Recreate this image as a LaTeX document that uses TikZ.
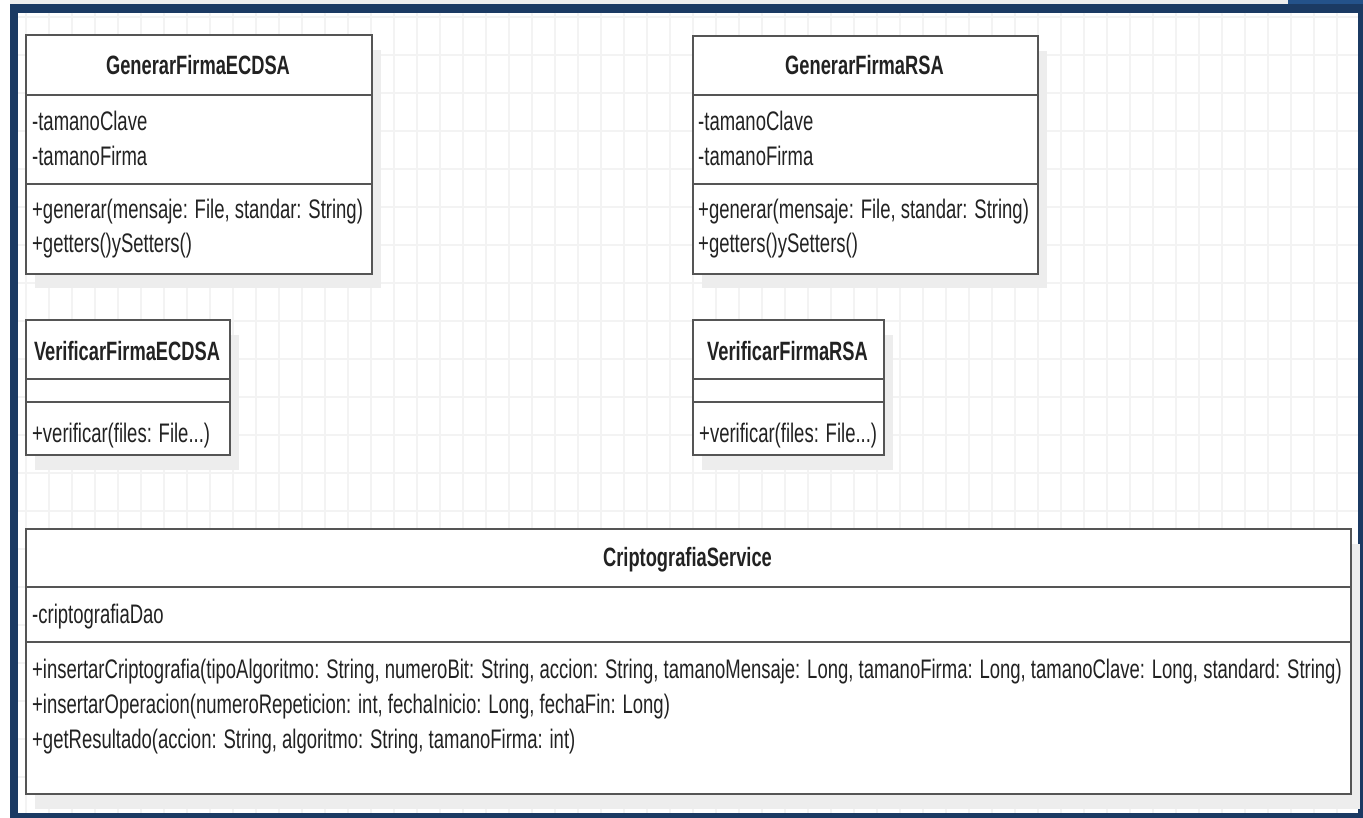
\documentclass[tikz,border=0pt]{standalone}
\usepackage{fontspec}
\setmainfont{Liberation Sans}[FakeStretch=0.69]
\definecolor{framecol}{HTML}{1B3A63}
\definecolor{tabcol}{HTML}{24528A}
\definecolor{stripcol}{HTML}{EEEEEE}
\definecolor{gridcol}{HTML}{F3F3F3}
\definecolor{shadowcol}{HTML}{EDEDED}
\definecolor{linecol}{HTML}{555555}
\definecolor{textcol}{HTML}{222222}
\tikzset{
  gridline/.style={draw=gridcol, line width=1.3pt},
  umlbox/.style={draw=linecol, fill=white, line width=2.4pt, rectangle, inner sep=0pt, anchor=north west},
  divline/.style={draw=linecol, line width=2.4pt},
  boxshadow/.style={fill=shadowcol},
  title/.style={font=\fontsize{26.5}{26.5}\selectfont\bfseries, text=textcol, inner sep=0pt, anchor=base},
  member/.style={font=\fontsize{26.8}{26.8}\selectfont, text=textcol, inner sep=0pt, anchor=base west},
}
\begin{document}
\begin{tikzpicture}[x=1pt,y=-1pt]
\useasboundingbox (0,0) rectangle (1363,818);
% window strip and frame
\fill[white] (0,0) rectangle (1363,818);
\fill[stripcol] (10,0) rectangle (1288,4);
\fill[tabcol] (1288,0) rectangle (1363,4);
\fill[framecol] (10,4) rectangle (1363,818);
\fill[white] (18,13) rectangle (1358,813);
% background grid
\begin{scope}
\clip (18,13) rectangle (1358,813);
\foreach \i in {1,...,59} {\draw[gridline] ({3+23*\i},13) -- ({3+23*\i},813);}
\foreach \j in {0,...,20} {\draw[gridline] (18,{17+38*\j}) -- (1358,{17+38*\j});}
\end{scope}

% shadows
\fill[boxshadow] (35,50) rectangle (381,288);
\fill[boxshadow] (702,51) rectangle (1047,288);
\fill[boxshadow] (35,335) rectangle (239,470);
\fill[boxshadow] (702,335) rectangle (893,470);
\fill[boxshadow] (35,544) rectangle (1360,809);

% GenerarFirmaECDSA
\node[umlbox, minimum width=346pt, minimum height=239pt] (gecdsa) at (25,34) {};
\draw[divline] (gecdsa.west |- 0,95) -- (gecdsa.east |- 0,95);
\draw[divline] (gecdsa.west |- 0,184) -- (gecdsa.east |- 0,184);
\node[title] (gecdsaT) at (198,75) {GenerarFirmaECDSA};
\node[member] (gecdsaA1) at (32,131) {-tamanoClave};
\node[member] (gecdsaA2) at (32,166) {-tamanoFirma};
\node[member] (gecdsaM1) at (32,219) {+generar(mensaje: File, standar: String)};
\node[member] (gecdsaM2) at (32,253) {+getters()ySetters()};

% GenerarFirmaRSA
\node[umlbox, minimum width=345pt, minimum height=238pt] (grsa) at (692,35) {};
\draw[divline] (grsa.west |- 0,95) -- (grsa.east |- 0,95);
\draw[divline] (grsa.west |- 0,184) -- (grsa.east |- 0,184);
\node[title] (grsaT) at (864.5,75) {GenerarFirmaRSA};
\node[member] (grsaA1) at (698,131) {-tamanoClave};
\node[member] (grsaA2) at (698,166) {-tamanoFirma};
\node[member] (grsaM1) at (698,219) {+generar(mensaje: File, standar: String)};
\node[member] (grsaM2) at (698,253) {+getters()ySetters()};

% VerificarFirmaECDSA
\node[umlbox, minimum width=204pt, minimum height=135pt] (vecdsa) at (25,319) {};
\draw[divline] (vecdsa.west |- 0,379) -- (vecdsa.east |- 0,379);
\draw[divline] (vecdsa.west |- 0,402) -- (vecdsa.east |- 0,402);
\node[title] (vecdsaT) at (127,360) {VerificarFirmaECDSA};
\node[member] (vecdsaM1) at (32,442) {+verificar(files: File...)};

% VerificarFirmaRSA
\node[umlbox, minimum width=191pt, minimum height=135pt] (vrsa) at (692,319) {};
\draw[divline] (vrsa.west |- 0,379) -- (vrsa.east |- 0,379);
\draw[divline] (vrsa.west |- 0,402) -- (vrsa.east |- 0,402);
\node[title] (vrsaT) at (787.5,360) {VerificarFirmaRSA};
\node[member] (vrsaM1) at (699,442) {+verificar(files: File...)};

% CriptografiaService
\node[umlbox, minimum width=1325pt, minimum height=265pt] (csvc) at (25,528) {};
\draw[divline] (csvc.west |- 0,587) -- (csvc.east |- 0,587);
\draw[divline] (csvc.west |- 0,642) -- (csvc.east |- 0,642);
\node[title] (csvcT) at (687.5,566) {CriptografiaService};
\node[member] (csvcA1) at (32,623) {-criptografiaDao};
\node[member] (csvcM1) at (32,678) {+insertarCriptografia(tipoAlgoritmo: String, numeroBit: String, accion: String, tamanoMensaje: Long, tamanoFirma: Long, tamanoClave: Long, standard: String)};
\node[member] (csvcM2) at (32,713) {+insertarOperacion(numeroRepeticion: int, fechaInicio: Long, fechaFin: Long)};
\node[member] (csvcM3) at (32,748) {+getResultado(accion: String, algoritmo: String, tamanoFirma: int)};
\end{tikzpicture}
\end{document}
